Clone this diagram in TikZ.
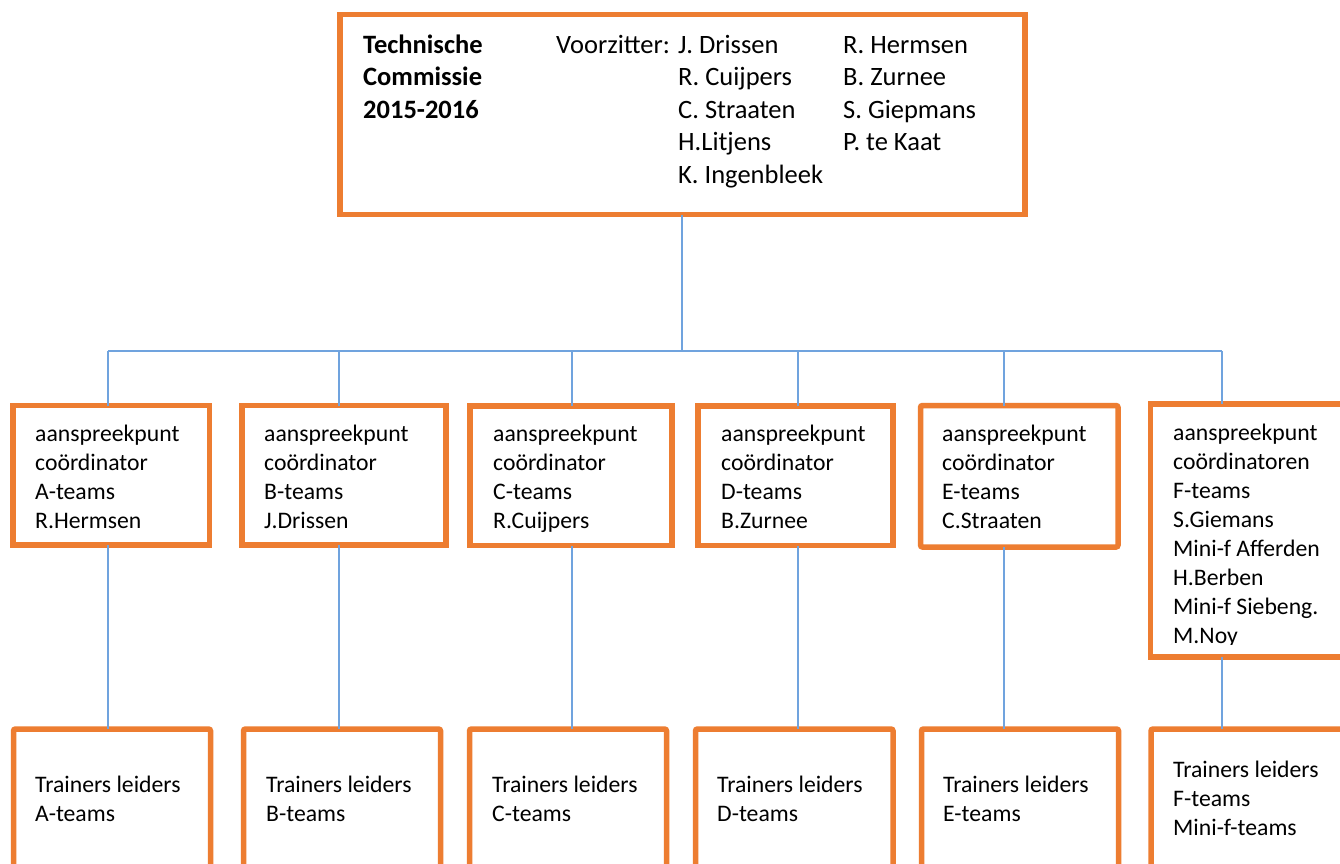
\documentclass[tikz,border=0pt]{standalone}
\usepackage{fontspec}
\setmainfont{Carlito}
\definecolor{boxorange}{HTML}{ED7D31}
\definecolor{linkblue}{RGB}{112,163,222}
\newcommand\ml[2]{\vtop{\baselineskip=#1\relax\lineskiplimit=-100pt\relax\halign{##\hfil\cr#2\crcr}}}
\begin{document}
\begin{tikzpicture}[x=1pt,y=-1pt,
  obox/.style={draw=boxorange, line width=5.5pt, fill=white, line join=miter, inner sep=0pt, outer sep=0pt},
  link/.style={draw=linkblue, line width=1.5pt},
  bigtxt/.style={inner sep=0pt, anchor=base west, font=\fontsize{26.5pt}{32.5pt}\selectfont},
  txt/.style={inner sep=0pt, anchor=base west, font=\fontsize{23.7pt}{29pt}\selectfont}]
\useasboundingbox (0,0) rectangle (1340,863);
\clip (0,0) rectangle (1340,863);
\fill[white] (0,0) rectangle (1340,863);

% boxes
\node[obox, minimum width=685pt, minimum height=200pt] (top) at (682.5,114.5) {};

\node[obox, minimum width=196.5pt, minimum height=139.5pt] (mA) at (111.25,475.25) {};
\node[obox, minimum width=204pt, minimum height=139.5pt] (mB) at (344,475.25) {};
\node[obox, minimum width=202pt, minimum height=139.5pt] (mC) at (571,475.75) {};
\node[obox, minimum width=195pt, minimum height=139.5pt] (mD) at (795.5,475.75) {};
\node[obox, rounded corners=2pt, minimum width=197.5pt, minimum height=141.5pt] (mE) at (1019.25,476.25) {};
\node[obox, minimum width=195.5pt, minimum height=253pt] (mF) at (1248.25,530.5) {};

\node[obox, rounded corners=2pt, minimum width=197pt, minimum height=171pt] (bA) at (112,814.5) {};
\node[obox, rounded corners=2pt, minimum width=197pt, minimum height=171pt] (bB) at (342,814.5) {};
\node[obox, rounded corners=2pt, minimum width=197pt, minimum height=171pt] (bC) at (568,814.5) {};
\node[obox, rounded corners=2pt, minimum width=197.5pt, minimum height=171pt] (bD) at (794.25,814.5) {};
\node[obox, rounded corners=2pt, minimum width=197pt, minimum height=171pt] (bE) at (1020,814.5) {};
\node[obox, rounded corners=2pt, minimum width=195pt, minimum height=171pt] (bF) at (1248.5,814.5) {};

% connectors
\coordinate (hub) at (682,351);
\coordinate (cA) at (108,351);
\coordinate (cB) at (339,351);
\coordinate (cC) at (572,351);
\coordinate (cD) at (798,351);
\coordinate (cE) at (1004,351);
\coordinate (cF) at (1222,351);
\draw[link] (top.south -| hub) -- (hub);
\draw[link] (cA) -- (cF);
\foreach \c in {A,B,C,D,E,F}{
  \draw[link] (c\c) -- (c\c |- m\c.north);
  \draw[link] (c\c |- m\c.south) -- (c\c |- b\c.north);
}

% top box text
\node[bigtxt, font=\fontsize{26.5pt}{32.5pt}\selectfont\bfseries] (ttitle) at (363,53) {\ml{32.5pt}{Technische\cr Commissie\cr 2015-2016}};
\node[bigtxt] (tvoor) at (556,53) {Voorzitter:};
\node[bigtxt] (tcol1) at (678,53) {\ml{32.5pt}{J. Drissen\cr R. Cuijpers\cr C. Straaten\cr H.Litjens\cr K. Ingenbleek}};
\node[bigtxt] (tcol2) at (843,53) {\ml{32.5pt}{R. Hermsen\cr B. Zurnee\cr S. Giepmans\cr P. te Kaat}};

% middle texts
\node[txt] (tmA) at (35,441) {\ml{29pt}{aanspreekpunt\cr coördinator\cr A-teams\cr R.Hermsen}};
\node[txt] (tmB) at (264,441) {\ml{29pt}{aanspreekpunt\cr coördinator\cr B-teams\cr J.Drissen}};
\node[txt] (tmC) at (493,441) {\ml{29pt}{aanspreekpunt\cr coördinator\cr C-teams\cr R.Cuijpers}};
\node[txt] (tmD) at (721,441) {\ml{29pt}{aanspreekpunt\cr coördinator\cr D-teams\cr B.Zurnee}};
\node[txt] (tmE) at (942,441) {\ml{29pt}{aanspreekpunt\cr coördinator\cr E-teams\cr C.Straaten}};
\begin{scope}
\clip (1153,407) rectangle (1340,644.5);
\node[txt] (tmF) at (1173,440.5) {\ml{29pt}{aanspreekpunt\cr coördinatoren\cr F-teams\cr S.Giemans\cr Mini-f Afferden\cr H.Berben\cr Mini-f Siebeng.\cr M.Noy}};
\end{scope}

% bottom texts
\node[txt] (tbA) at (35,792) {\ml{29pt}{Trainers leiders\cr A-teams}};
\node[txt] (tbB) at (266,792) {\ml{29pt}{Trainers leiders\cr B-teams}};
\node[txt] (tbC) at (492,792) {\ml{29pt}{Trainers leiders\cr C-teams}};
\node[txt] (tbD) at (717,792) {\ml{29pt}{Trainers leiders\cr D-teams}};
\node[txt] (tbE) at (943,792) {\ml{29pt}{Trainers leiders\cr E-teams}};
\node[txt] (tbF) at (1173,777) {\ml{29pt}{Trainers leiders\cr F-teams\cr Mini-f-teams}};
\end{tikzpicture}
\end{document}
